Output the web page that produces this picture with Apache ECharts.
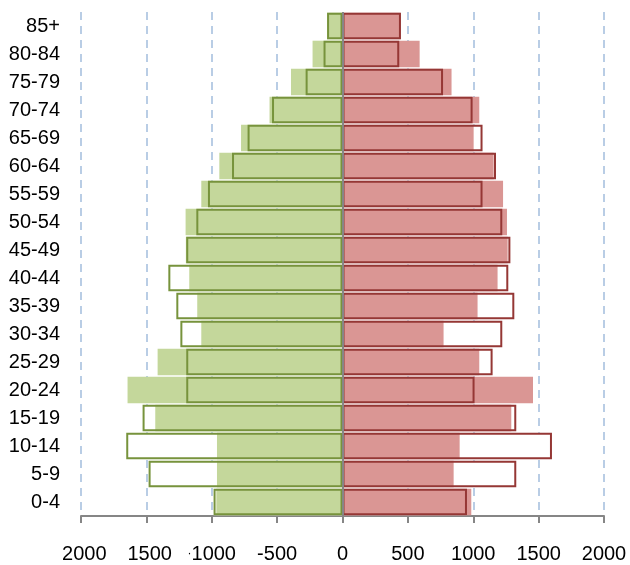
<!DOCTYPE html>
<html>
<head>
<meta charset="utf-8">
<script src="https://cdn.jsdelivr.net/npm/echarts@6/dist/echarts.min.js"></script>
<style>html,body{margin:0;padding:0;background:#fff}#c{width:630px;height:565px}</style>
</head>
<body>
<div id="c"></div>
<script>
const categories = ['0-4','5-9','10-14','15-19','20-24','25-29','30-34','35-39','40-44','45-49','50-54','55-59','60-64','65-69','70-74','75-79','80-84','85+'];
const leftFilled   = [965, 960, 960, 1432, 1644, 1414, 1080, 1111, 1172, 1198, 1200, 1080, 942, 776, 558, 394, 229, 118];
const leftOutline  = [986, 1483, 1654, 1529, 1195, 1195, 1240, 1271, 1332, 1195, 1118, 1029, 845, 726, 539, 282, 145, 118];
const rightFilled  = [985, 850, 896, 1291, 1457, 1046, 773, 1033, 1186, 1263, 1258, 1228, 1156, 1003, 1046, 834, 590, 444];
const rightOutline = [952, 1329, 1602, 1329, 1010, 1148, 1222, 1314, 1268, 1284, 1222, 1071, 1174, 1071, 995, 769, 434, 447];
const xTicks = [-2000, -1500, -1000, -500, 0, 500, 1000, 1500, 2000];

const neg = a => a.map(v => -v);
const FONT = 'Liberation Sans';
const barBase = { type: 'bar', barGap: '-100%', barCategoryGap: '5%', animation: false, silent: true };

const chart = echarts.init(document.getElementById('c'), null, { renderer: 'canvas' });
chart.setOption({
  animation: false,
  backgroundColor: '#fff',
  grid: { left: 81, right: 26, top: 12, bottom: 49, containLabel: false },
  xAxis: {
    type: 'value', min: xTicks[0], max: xTicks[xTicks.length - 1], interval: 500,
    axisLine: { show: true, lineStyle: { color: '#868686', width: 2 } },
    axisTick: { show: true, length: 7, lineStyle: { color: '#868686', width: 2 } },
    splitLine: { show: true, lineStyle: { color: '#b9cde5', width: 2, type: [8, 6] } },
    axisLabel: {
      margin: 28, fontFamily: FONT, fontSize: 20, color: '#000',
      formatter: function (v) {
        if (v === -2000 || v === -1500) return '{w|-}' + Math.abs(v);
        if (v === -1000) return '{d|·}' + Math.abs(v);
        return String(v);
      },
      rich: {
        w: { color: '#fff', fontFamily: FONT, fontSize: 20 },
        d: { color: '#000', fontFamily: FONT, fontSize: 12 }
      }
    }
  },
  yAxis: {
    type: 'category', data: categories,
    axisLine: { show: false, onZero: false },
    axisTick: { show: false },
    splitLine: { show: false },
    axisLabel: { margin: 21, fontFamily: FONT, fontSize: 20, color: '#000' }
  },
  series: [
    Object.assign({}, barBase, { name: 'lob', z: 1, data: neg(leftOutline), itemStyle: { color: '#ffffff' } }),
    Object.assign({}, barBase, { name: 'rob', z: 1, data: rightOutline, itemStyle: { color: '#ffffff' } }),
    Object.assign({}, barBase, { name: 'lf', z: 2, data: neg(leftFilled), itemStyle: { color: '#c4d79b' } }),
    Object.assign({}, barBase, { name: 'rf', z: 2, data: rightFilled, itemStyle: { color: '#da9694' } }),
    Object.assign({}, barBase, { name: 'lo', z: 3, data: neg(leftOutline), itemStyle: { color: 'rgba(0,0,0,0)', borderColor: '#77933c', borderWidth: 2 } }),
    Object.assign({}, barBase, { name: 'ro', z: 3, data: rightOutline, itemStyle: { color: 'rgba(0,0,0,0)', borderColor: '#953735', borderWidth: 2 } }),
    {
      type: 'line', data: [], z: 10, silent: true, animation: false,
      markLine: {
        silent: true, symbol: ['none', 'none'], animation: false,
        label: { show: false },
        lineStyle: { color: '#868686', width: 2, type: 'solid' },
        data: [{ xAxis: 0 }]
      }
    }
  ]
});
</script>
</body>
</html>
